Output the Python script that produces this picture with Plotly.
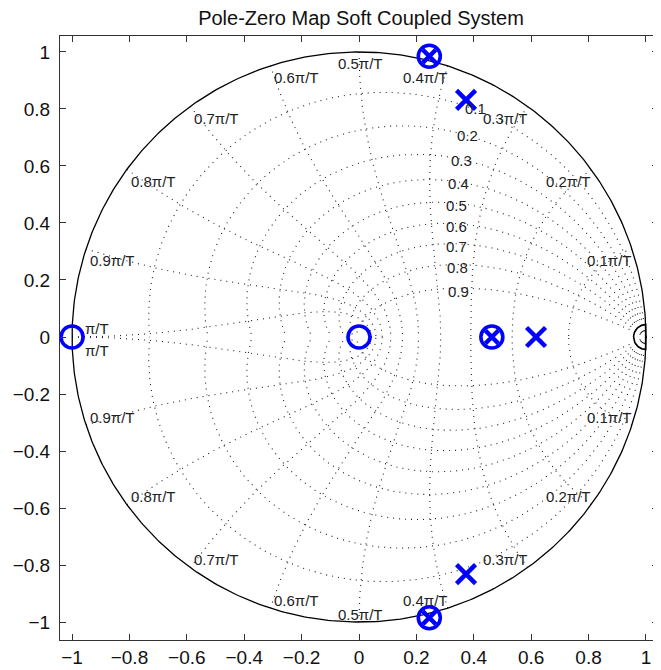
import numpy as np
import plotly.graph_objects as go

# ---- data ----
title_text = "Pole-Zero Map Soft Coupled System"
zeros_re = [-1.0, 0.0, 0.463, 0.245, 0.245]
zeros_im = [0.0, 0.0, 0.0, 0.985, -0.985]
poles_re = [0.463, 0.245, 0.245, 0.373, 0.373, 0.617]
poles_im = [0.0, 0.985, -0.985, 0.832, -0.832, 0.0]
zeta_values = [0.1, 0.2, 0.3, 0.4, 0.5, 0.6, 0.7, 0.8, 0.9]
wn_values = [0.1, 0.2, 0.3, 0.4, 0.5, 0.6, 0.7, 0.8, 0.9, 1.0]   # in units of pi/T
wn_labels = ["0.1π/T", "0.2π/T", "0.3π/T", "0.4π/T", "0.5π/T",
             "0.6π/T", "0.7π/T", "0.8π/T", "0.9π/T", "π/T"]
tick_vals = [-1, -0.8, -0.6, -0.4, -0.2, 0, 0.2, 0.4, 0.6, 0.8, 1]

FONT = "Liberation Sans, Arial, sans-serif"
GRID = dict(color="#222222", width=1.1, dash="1px,5px")
fig = go.Figure()

# damping (zeta) spirals
for z in zeta_values:
    m = z / np.sqrt(1 - z * z)
    th = np.linspace(0, np.pi, 300)
    zz = np.exp(th * (-m + 1j))
    for sgn in (1, -1):
        fig.add_trace(go.Scatter(x=zz.real, y=sgn * zz.imag, mode="lines",
                                 line=GRID, hoverinfo="skip", showlegend=False))

# natural frequency curves
for w in wn_values:
    zt = np.linspace(0, 1, 300)
    zz = np.exp(w * np.pi * (-zt + 1j * np.sqrt(1 - zt ** 2)))
    for sgn in (1, -1):
        fig.add_trace(go.Scatter(x=zz.real, y=sgn * zz.imag, mode="lines",
                                 line=GRID, hoverinfo="skip", showlegend=False))

# unit circle
t = np.linspace(0, 2 * np.pi, 600)
fig.add_trace(go.Scatter(x=np.cos(t), y=np.sin(t), mode="lines",
                         line=dict(color="black", width=1.3),
                         hoverinfo="skip", showlegend=False))
# tiny solid arc near z=1
zt = np.linspace(0, 1, 60)
small = np.exp(0.014 * np.pi * (-zt + 1j * np.sqrt(1 - zt ** 2)))
fig.add_trace(go.Scatter(x=np.concatenate([small.real[::-1], small.real]),
                         y=np.concatenate([-small.imag[::-1], small.imag]),
                         mode="lines", line=dict(color="black", width=1.6),
                         hoverinfo="skip", showlegend=False))

BLUE = "rgb(0,0,255)"
fig.add_trace(go.Scatter(x=zeros_re, y=zeros_im, mode="markers",
                         marker=dict(symbol="circle-open", size=22, color=BLUE,
                                     line=dict(width=3.6, color=BLUE)),
                         showlegend=False))
pole_sizes = []
for pr, pi_ in zip(poles_re, poles_im):
    on_zero = any(abs(pr - a) < 1e-6 and abs(pi_ - b) < 1e-6 for a, b in zip(zeros_re, zeros_im))
    pole_sizes.append(13 if on_zero else 19)
fig.add_trace(go.Scatter(x=poles_re, y=poles_im, mode="markers",
                         marker=dict(symbol="x-thin-open", size=pole_sizes, color=BLUE,
                                     opacity=1, line=dict(width=4.5, color=BLUE)),
                         showlegend=False))

LABEL_FONT = dict(family=FONT, size=15, color="#222222")
anns = []
# wn labels
for w, lab in zip(wn_values, wn_labels):
    a = w * np.pi
    cx, cy = np.cos(a), np.sin(a)
    if w < 0.5:
        xa, xs = "right", 2
    elif w == 0.5:
        xa, xs = "center", 1
    else:
        xa, xs = "left", 2
    if w == 1.0:
        shifts = [(9, 11), (-13, 11)]
    else:
        shifts = [(-12, xs), (8, xs)]
    for sgn, (ys, xsh) in zip((1, -1), shifts):
        anns.append(dict(x=cx, y=sgn * cy, text=lab, showarrow=False,
                         xanchor=xa, yanchor="middle", xshift=xsh, yshift=ys,
                         font=LABEL_FONT))
# zeta labels
for z in zeta_values:
    wt = 0.365 * np.pi
    p = np.exp(wt * (-z + 1j * np.sqrt(1 - z * z)))
    anns.append(dict(x=p.real, y=p.imag, text=f"{z:.1f}", showarrow=False,
                     xanchor="left", yanchor="middle", xshift=-3, yshift=-3,
                     font=LABEL_FONT))

# the page body has an 8px margin, so the figure is sized to fit the window
fig.update_layout(
    width=653, height=662,
    margin=dict(l=52, r=2, t=28, b=22),
    paper_bgcolor="white", plot_bgcolor="white",
    title=dict(text=title_text, x=0.5406, xanchor="center", y=0.9855, yanchor="middle",
               font=dict(family=FONT, size=20, color="#111111")),
    annotations=anns,
    font=dict(family=FONT, size=19, color="#111111"),
)
axis_common = dict(showgrid=False, zeroline=False, showline=True, linecolor="#333333",
                   linewidth=1, mirror="ticks", ticks="inside", ticklen=6,
                   tickcolor="#333333", tickvals=tick_vals,
                   tickfont=dict(family=FONT, size=19, color="#111111"))
fig.update_xaxes(range=[-1.042, 1.042], **axis_common)
fig.update_yaxes(range=[-1.063, 1.056], ticklabelstandoff=5, **axis_common)

fig.write_html("out.html")
